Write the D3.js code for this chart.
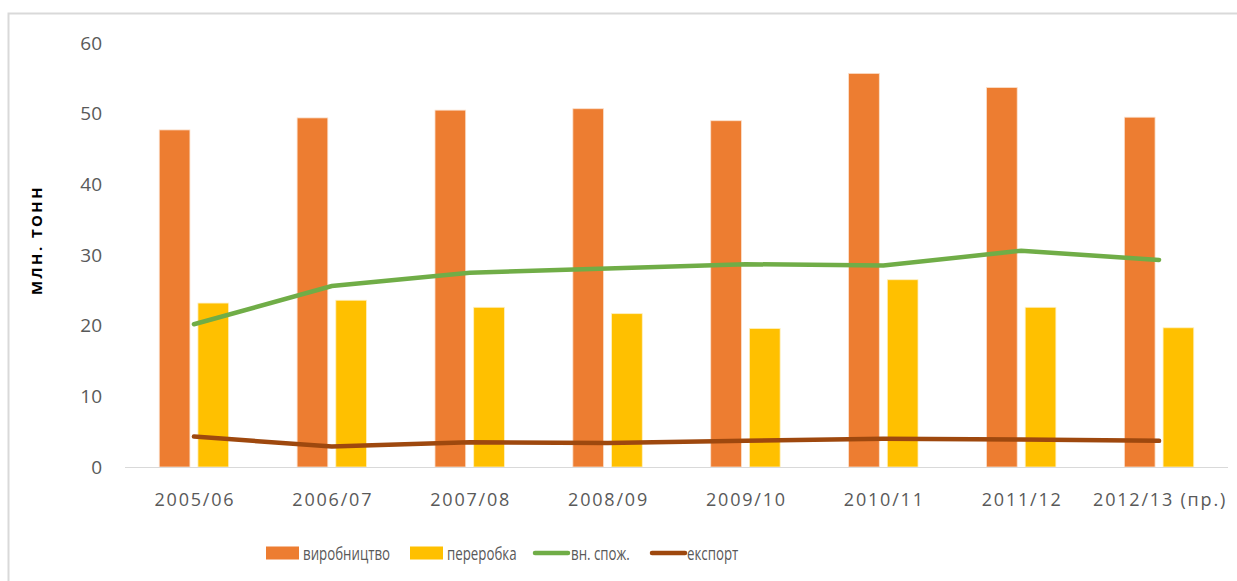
<!DOCTYPE html>
<html>
<head>
<meta charset="utf-8">
<script src="https://cdn.jsdelivr.net/npm/d3@7"></script>
<style>
  body { margin: 0; background: #fff; }
  text { font-family: "Open Sans", "Noto Sans", sans-serif; fill: #595959; }
</style>
</head>
<body>
<div id="chart"></div>
<script>
// chart data
var years = ["2005/06", "2006/07", "2007/08", "2008/09", "2009/10", "2010/11", "2011/12", "2012/13 (пр.)"];
var production = [47.7, 49.4, 50.5, 50.7, 49.0, 55.7, 53.7, 49.5];
var processing = [23.2, 23.6, 22.6, 21.7, 19.6, 26.5, 22.6, 19.7];
var consumption = [20.2, 25.6, 27.5, 28.1, 28.7, 28.5, 30.6, 29.3];
var exportVals = [4.3, 2.9, 3.5, 3.4, 3.7, 4.0, 3.9, 3.7];
var yTicks = [0, 10, 20, 30, 40, 50, 60];
var seriesNames = ["виробництво", "переробка", "вн. спож.", "експорт"];
var colors = ["#ED7D31", "#FFC000", "#70AD47", "#9E480E"];

var Width = 1237;
var Height = 581;

var svg = d3.select("#chart")
  .append("svg")
  .attr("width", Width)
  .attr("height", Height);

// outer frame
svg.append("rect")
  .attr("x", 8.5).attr("y", 13.5)
  .attr("width", Width).attr("height", Height)
  .attr("fill", "none")
  .attr("stroke", "#d9d9d9")
  .attr("stroke-width", 2);

var plotLeft = 125, plotRight = 1228, plotTop = 43, plotBottom = 467;

var x = d3.scaleBand().domain(years).range([plotLeft, plotRight]);
var y = d3.scaleLinear().domain([0, 60]).range([plotBottom, plotTop]);

var barW = 30.7, barGap = 8;

// y tick labels
svg.append("g")
  .selectAll("text")
  .data(yTicks)
  .enter()
  .append("text")
  .attr("x", 102)
  .attr("y", function(d) { return y(d); })
  .attr("dy", "0.35em")
  .attr("text-anchor", "end")
  .attr("font-size", 19)
  .text(function(d) { return d; });

// y title
svg.append("text")
  .attr("transform", "translate(42,240) rotate(-90)")
  .attr("text-anchor", "middle")
  .attr("font-size", 15)
  .attr("font-weight", "bold")
  .attr("letter-spacing", 2.4)
  .style("fill", "#000")
  .text("МЛН. ТОНН");

// bars
var groups = svg.append("g").selectAll("g")
  .data(years)
  .enter()
  .append("g");

groups.append("rect")
  .attr("x", function(d) { return x(d) + x.bandwidth() / 2 - barGap / 2 - barW; })
  .attr("y", function(d, i) { return y(production[i]); })
  .attr("width", barW)
  .attr("height", function(d, i) { return y(0) - y(production[i]); })
  .attr("fill", colors[0])
  .attr("stroke", "#fbe0cc")
  .attr("stroke-width", 0.8);

groups.append("rect")
  .attr("x", function(d) { return x(d) + x.bandwidth() / 2 + barGap / 2; })
  .attr("y", function(d, i) { return y(processing[i]); })
  .attr("width", barW)
  .attr("height", function(d, i) { return y(0) - y(processing[i]); })
  .attr("fill", colors[1])
  .attr("stroke", "#fff0c0")
  .attr("stroke-width", 0.8);

// x axis line
svg.append("line")
  .attr("x1", plotLeft).attr("x2", plotRight)
  .attr("y1", plotBottom + 0.5).attr("y2", plotBottom + 0.5)
  .attr("stroke", "#d9d9d9")
  .attr("stroke-width", 1);

// x labels
svg.append("g")
  .selectAll("text")
  .data(years)
  .enter()
  .append("text")
  .attr("x", function(d) { return x(d) + x.bandwidth() / 2 + 1; })
  .attr("y", 500)
  .attr("dy", "0.35em")
  .attr("text-anchor", "middle")
  .attr("font-size", 18)
  .attr("letter-spacing", 1.8)
  .text(function(d) { return d; });

// lines
var line = d3.line()
  .x(function(d, i) { return x(years[i]) + x.bandwidth() / 2; })
  .y(function(d) { return y(d); });

svg.append("path")
  .datum(consumption)
  .attr("d", line)
  .attr("fill", "none")
  .attr("stroke", colors[2])
  .attr("stroke-width", 4.5)
  .attr("stroke-linecap", "round");

svg.append("path")
  .datum(exportVals)
  .attr("d", line)
  .attr("fill", "none")
  .attr("stroke", colors[3])
  .attr("stroke-width", 4.5)
  .attr("stroke-linecap", "round");

// legend
var legendX = [266, 410, 534, 651];
var legend = svg.append("g").selectAll("g")
  .data(seriesNames)
  .enter()
  .append("g")
  .attr("transform", function(d, i) { return "translate(" + legendX[i] + ",553)"; });

legend.filter(function(d, i) { return i < 2; })
  .append("rect")
  .attr("x", 0).attr("y", -6.5)
  .attr("width", 33).attr("height", 13)
  .attr("fill", function(d, i) { return colors[i]; });

legend.filter(function(d, i) { return i >= 2; })
  .append("line")
  .attr("x1", 1).attr("x2", 34)
  .attr("y1", 0).attr("y2", 0)
  .attr("stroke", function(d, i) { return colors[i + 2]; })
  .attr("stroke-width", 4.5)
  .attr("stroke-linecap", "round");

// condensed legend labels
legend.append("text")
  .attr("transform", function(d, i) { return "translate(" + (i < 3 ? 37 : 36) + ",0) scale(0.7,1)"; })
  .attr("dy", "0.35em")
  .attr("font-size", 19)
  .text(function(d) { return d; });
</script>
</body>
</html>
